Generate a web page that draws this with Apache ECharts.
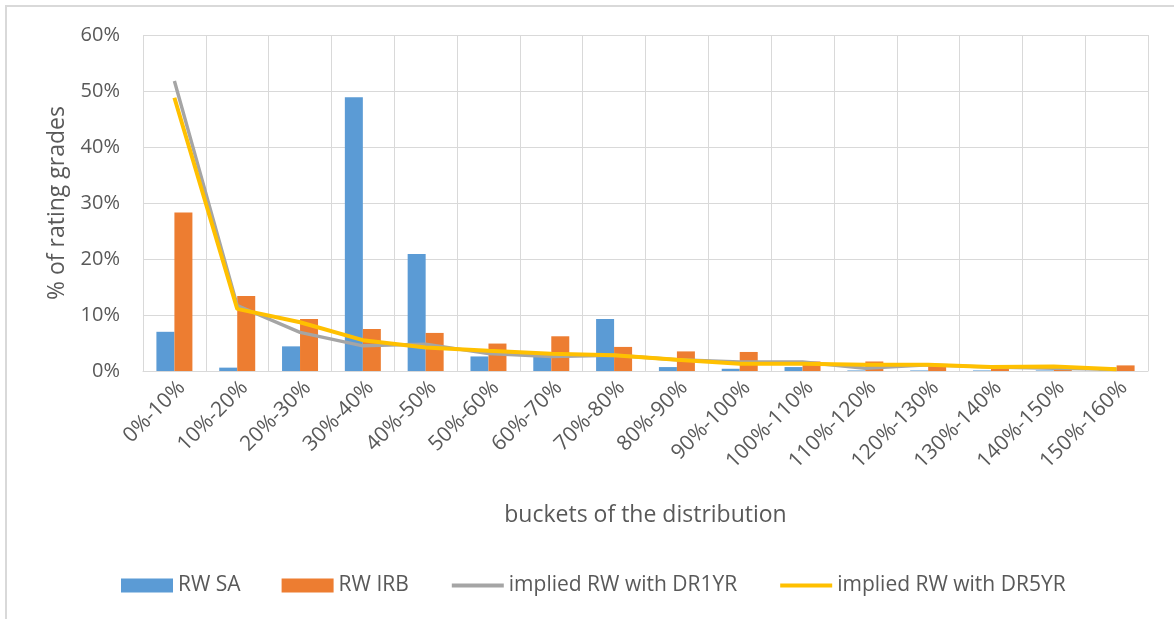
<!DOCTYPE html>
<html>
<head>
<meta charset="utf-8">
<script src="https://cdn.jsdelivr.net/npm/echarts@6/dist/echarts.min.js"></script>
<style>
html,body{margin:0;padding:0;background:#fff;}
#chart{width:1174px;height:619px;}
</style>
</head>
<body>
<div id="chart"></div>
<script>
var categories = ['0%-10%','10%-20%','20%-30%','30%-40%','40%-50%','50%-60%','60%-70%','70%-80%','80%-90%','90%-100%','100%-110%','110%-120%','120%-130%','130%-140%','140%-150%','150%-160%'];
var rwSA   = [7.0, 0.6, 4.4, 48.9, 20.9, 2.6, 2.5, 9.3, 0.7, 0.4, 0.7, 0.1, 0.1, 0.1, 0.1, 0.1];
var rwIRB  = [28.3, 13.4, 9.3, 7.5, 6.8, 4.9, 6.2, 4.3, 3.5, 3.4, 1.7, 1.7, 0.9, 0.5, 0.3, 1.0];
var dr1yr  = [51.8, 11.7, 6.9, 4.5, 4.8, 3.1, 2.6, 2.8, 2.0, 1.6, 1.6, 0.5, 1.1, 0.7, 0.5, 0.3];
var dr5yr  = [48.8, 11.1, 8.7, 5.5, 4.2, 3.6, 3.1, 2.8, 2.0, 1.3, 1.3, 1.1, 1.1, 0.7, 0.8, 0.3];
var yTicks = {min: 0, max: 60, interval: 10};

var FONT = 'Open Sans';
var TXT = '#595959';
var GRIDC = '#D9D9D9';
var GRAY = '#A5A5A5';
var YELLOW = '#FFC000';

var chart = echarts.init(document.getElementById('chart'), null, {renderer: 'canvas'});
chart.setOption({
  backgroundColor: '#fff',
  animation: false,
  textStyle: {fontFamily: FONT, color: TXT},
  graphic: [{
    type: 'rect', silent: true, z: -10,
    shape: {x: 6, y: 6, width: 1300, height: 800},
    style: {fill: 'none', stroke: GRIDC, lineWidth: 2}
  }],
  grid: {left: 143, right: 26, top: 35, bottom: 248, containLabel: false},
  legend: {
    left: 121, top: 575, padding: 0,
    itemWidth: 52, itemHeight: 14, itemGap: 41,
    textStyle: {fontFamily: FONT, fontSize: 21, color: TXT},
    data: [
      {name: 'RW SA', icon: 'rect'},
      {name: 'RW IRB', icon: 'rect'},
      {name: 'implied RW with DR1YR', itemStyle: {color: 'rgba(0,0,0,0)', opacity: 0}, lineStyle: {color: GRAY, width: 4}},
      {name: 'implied RW with DR5YR', itemStyle: {color: 'rgba(0,0,0,0)', opacity: 0}, lineStyle: {color: YELLOW, width: 4}}
    ]
  },
  xAxis: {
    type: 'category',
    data: categories,
    boundaryGap: true,
    name: 'buckets of the distribution',
    nameLocation: 'middle',
    nameGap: 133,
    nameTextStyle: {fontFamily: FONT, fontSize: 23, color: TXT},
    axisLine: {show: true, lineStyle: {color: GRIDC, width: 1}},
    axisTick: {show: false},
    splitLine: {show: true, lineStyle: {color: GRIDC, width: 1}},
    axisLabel: {rotate: 45, interval: 0, fontFamily: FONT, fontSize: 21, color: TXT, margin: 6, verticalAlign: 'top'}
  },
  yAxis: {
    type: 'value',
    min: yTicks.min, max: yTicks.max, interval: yTicks.interval,
    name: '% of rating grades',
    nameLocation: 'middle',
    nameGap: 74,
    nameRotate: 90,
    nameTextStyle: {fontFamily: FONT, fontSize: 23, color: TXT},
    axisLine: {show: false},
    axisTick: {show: false},
    splitLine: {show: true, lineStyle: {color: GRIDC, width: 1}},
    axisLabel: {formatter: '{value}%', fontFamily: FONT, fontSize: 20, color: TXT, margin: 23}
  },
  series: [
    {name: 'RW SA', type: 'bar', data: rwSA, barWidth: 18, barGap: '0%', itemStyle: {color: '#5B9BD5'}},
    {name: 'RW IRB', type: 'bar', data: rwIRB, barWidth: 18, barGap: '0%', itemStyle: {color: '#ED7D31'}},
    {name: 'implied RW with DR1YR', type: 'line', data: dr1yr, symbol: 'none', z: 3,
      lineStyle: {color: GRAY, width: 3.4}, itemStyle: {color: GRAY}},
    {name: 'implied RW with DR5YR', type: 'line', data: dr5yr, symbol: 'none', z: 4,
      lineStyle: {color: YELLOW, width: 4}, itemStyle: {color: YELLOW}}
  ]
});
</script>
</body>
</html>
